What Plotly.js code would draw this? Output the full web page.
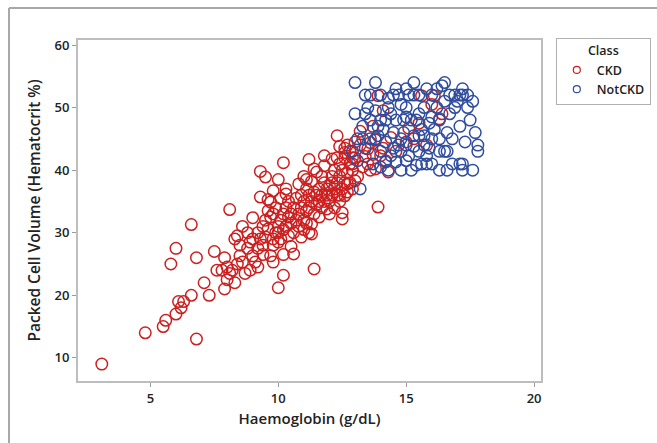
<!DOCTYPE html>
<html>
<head>
<meta charset="utf-8">
<script src="https://cdn.plot.ly/plotly-3.0.1.min.js"></script>
<style>
  html, body { margin: 0; padding: 0; background: #ffffff; }
  #chart { width: 657px; height: 443px; }
</style>
</head>
<body>
<div id="chart"></div>
<script>
// ---- Data ----
const classNames = ["CKD", "NotCKD"];

const ckdHemo = [
  3.1, 4.8, 5.5, 5.6, 6.0, 6.2, 6.1, 6.3, 6.6, 6.8, 7.3, 7.1, 5.8, 6.0, 6.8, 6.6, 8.1, 7.5, 7.6, 7.8,
  7.9, 7.9, 8.0, 8.1, 8.3, 8.2, 8.3, 8.5, 8.5, 8.6, 8.7, 8.4, 8.0, 8.8, 9.0, 9.0, 9.1, 9.2, 9.3, 9.3,
  9.3, 9.5, 9.8, 9.7, 9.7, 9.6, 9.5, 9.4, 9.7, 9.8, 10.0, 10.2, 10.2, 10.3, 10.4, 10.6, 10.8, 11.0, 11.2, 11.4,
  11.2, 11.3, 11.3, 11.5, 11.8, 11.8, 12.1, 12.3, 12.4, 12.6, 12.5, 12.5, 12.6, 12.7, 13.0, 13.9, 13.6, 14.3, 14.0, 14.1,
  13.5, 13.4, 13.6, 13.9, 15.6, 16.1, 16.4, 16.3, 15.0, 15.3, 13.2,
  8.9, 9.0, 9.2, 9.4, 9.5, 9.6, 9.8, 9.8, 9.9, 10.0, 10.0, 10.0, 10.1, 10.1, 10.2, 10.2, 10.3, 10.3, 10.4, 10.4,
  10.5, 10.5, 10.6, 10.6, 10.7, 10.7, 10.8, 10.8, 10.9, 10.9, 11.0, 11.0, 11.1, 11.1, 11.2, 11.2, 11.3, 11.4, 11.4, 11.5,
  11.5, 11.6, 11.6, 11.7, 11.7, 11.8, 11.8, 11.9, 11.9, 12.0, 12.0, 12.1, 12.1, 12.2, 12.2, 12.3, 12.3, 12.4, 12.4, 12.5,
  12.5, 12.6, 12.6, 12.7, 12.7, 12.8, 12.8, 12.9, 13.0, 10.1, 10.3, 10.0, 9.9, 9.6, 11.0, 11.3, 10.9, 10.5, 11.1, 10.2,
  9.8, 11.6, 11.9, 12.2, 12.0, 11.7, 11.4, 11.1, 12.4, 12.9, 13.1, 13.3, 13.5, 13.2, 13.7, 13.8, 13.0, 14.2, 13.8, 12.7,
  12.9, 9.4, 9.2, 8.8, 8.9, 8.4, 8.6,
  14.4, 15.5, 14.6, 15.8, 13.7, 14.1, 15.1, 16.0,
  12.3, 12.6, 12.8, 12.4, 12.9, 12.1
];
const ckdPcv = [
  9, 14, 15, 16, 17, 18, 19, 19, 20, 13, 20, 22, 25, 27.5, 26, 31.3, 33.7, 27, 24, 24,
  26, 21, 24.5, 23.5, 22, 24, 29, 28, 26.3, 25.3, 23.5, 25, 22.5, 30, 32.4, 26.3, 25.3, 27.5, 29, 35.7,
  39.8, 38.9, 36.7, 34.9, 32.5, 30.6, 29.3, 28, 26.3, 25.3, 21.2, 23.2, 41.2, 36.2, 32.5, 26.6, 37.8, 39, 41.7, 24.2,
  30, 31.4, 38.2, 39.7, 42.3, 40.7, 41.8, 45.5, 43.8, 42.8, 32.2, 33.2, 35.9, 37.8, 38.3, 34.1, 40, 39.7, 42.3, 43.5,
  43.4, 42.2, 44.4, 51.9, 51.9, 51.9, 49, 48.2, 44.5, 45, 46.2,
  28.5, 29, 30, 31, 32, 33.5, 28, 29, 30, 28.5, 30, 31, 29, 32, 30.5, 33, 31, 34, 29.5, 35,
  31.5, 33, 30, 34, 32, 35.5, 31, 33, 34, 36, 32, 35, 33.5, 37, 34, 36, 35, 33, 36.5, 34.5,
  36, 35, 37, 34, 36, 35, 38, 36, 37, 35, 37.5, 36, 39, 37, 40, 36, 38, 39, 41, 37,
  40, 38, 42, 36.5, 39.5, 41, 43, 40, 42, 35.5, 37, 38.5, 34, 35.3, 30.5, 29.8, 29.3, 27.8, 31.5, 26.5,
  33, 32.5, 33.8, 34, 33, 39, 40.2, 38.5, 35, 37, 39, 40.5, 41, 44, 42.5, 44.8, 44.5, 41.5, 40.2, 44,
  42, 26.5, 24.5, 27.5, 24, 29.5, 31,
  45.2, 47.5, 43, 44, 47, 49.5, 46.7, 50.5,
  42, 43.5, 38, 36, 41, 38
];

const notHemo = [
  13.0, 13.8, 15.3, 16.5, 15.8, 16.4, 17.2, 13.4, 13.6, 14.0, 14.5, 14.7, 15.1, 15.3, 15.5, 16.0, 16.7, 16.9, 17.1, 17.2,
  17.4, 14.3, 17.6, 13.0, 13.4, 13.8, 14.3, 15.0, 15.7, 16.2, 16.9, 17.4, 13.6, 14.0, 14.2, 14.6, 14.9, 15.2, 15.4, 16.3,
  17.1, 17.7, 17.8, 17.8, 13.1, 13.3, 13.6, 13.8, 14.5, 14.9, 15.3, 15.5, 15.7, 16.0, 16.3, 14.7, 15.0, 15.3, 15.7, 14.5,
  13.4, 14.0, 14.4, 14.8, 15.1, 15.5, 15.8, 16.3, 16.5, 16.6, 14.2, 14.6, 15.6, 15.8, 16.0, 16.8, 17.1, 17.2, 14.3, 15.2,
  16.3, 16.6, 17.2, 17.6, 13.2, 13.1, 12.9, 13.3, 13.5, 13.9, 14.1, 14.4, 14.8, 15.0, 15.5, 15.9, 16.1, 16.7, 16.5, 17.0,
  17.5, 14.6, 15.0, 16.2, 13.9, 14.2, 14.8, 15.0, 15.4, 15.9, 16.8, 17.3, 13.7, 14.0, 14.8, 15.6, 16.6, 16.0
];
const notPcv = [
  54, 54, 54, 54, 53, 53.5, 53, 52, 52, 52, 52, 52, 52, 52, 52, 52, 52, 52, 52, 52,
  52, 51.5, 51, 49, 49, 49.5, 50, 50, 50, 50, 50, 50, 48, 48, 48, 48, 48, 48, 48, 48,
  47, 46, 44, 43, 45, 45, 45, 45, 46, 46, 45.5, 45.5, 45.5, 45, 45, 44, 44, 43.8, 44, 43.5,
  43.5, 43, 42.3, 43, 42.3, 43, 42.3, 43, 43, 43, 41.3, 41.3, 41, 41, 41, 41, 41, 41, 40, 40,
  40, 40, 40, 40, 37, 41.5, 43, 47, 50, 47, 46.5, 49, 50.5, 48.5, 49, 47.5, 46.5, 49, 51, 51,
  48, 53, 53, 53, 45.5, 44.5, 45, 41.5, 40.8, 43.5, 45, 44.5, 41, 40.5, 40, 46.5, 46, 48.5
];

const xTickVals = [5, 10, 15, 20];
const yTickVals = [10, 20, 30, 40, 50, 60];

const RED = "#cc1f1f";
const BLUE = "#2f4c9e";
const FONT = "Open Sans, Noto Sans, sans-serif";

const traces = [
  {
    type: "scatter", mode: "markers", name: classNames[0],
    x: ckdHemo, y: ckdPcv, showlegend: false, hoverinfo: "skip",
    marker: { symbol: "circle-open", size: 11.5, color: RED, line: { width: 1.5, color: RED } }
  },
  {
    type: "scatter", mode: "markers", name: classNames[1],
    x: notHemo, y: notPcv, showlegend: false, hoverinfo: "skip",
    marker: { symbol: "circle-open", size: 11.5, color: BLUE, line: { width: 1.5, color: BLUE } }
  },
  // legend-only entries with small markers
  {
    type: "scatter", mode: "markers", name: classNames[0],
    x: [null], y: [null], showlegend: true,
    marker: { symbol: "circle-open", size: 7, color: RED, line: { width: 1.2, color: RED } }
  },
  {
    type: "scatter", mode: "markers", name: classNames[1],
    x: [null], y: [null], showlegend: true,
    marker: { symbol: "circle-open", size: 7, color: BLUE, line: { width: 1.2, color: BLUE } }
  }
];

const layout = {
  width: 657, height: 443,
  margin: { l: 78, r: 116, t: 40, b: 62, pad: 0 },
  paper_bgcolor: "#ffffff",
  plot_bgcolor: "#ffffff",
  font: { family: FONT, color: "#222222" },
  showlegend: true,
  xaxis: {
    range: [2.17, 20.27],
    tickvals: xTickVals,
    ticks: "outside", ticklen: 4, tickwidth: 1, tickcolor: "#9a9a9a",
    showgrid: false, zeroline: false,
    showline: true, mirror: true, linecolor: "#bdbdbd", linewidth: 2,
    tickfont: { family: FONT, size: 13, color: "#222222", weight: 600 },
    title: { text: "Haemoglobin (g/dL)", standoff: 8,
             font: { family: FONT, size: 15, color: "#222222", weight: 600 } },
    automargin: false
  },
  yaxis: {
    range: [6.3, 60.8],
    tickvals: yTickVals,
    ticks: "outside", ticklen: 4, tickwidth: 1, tickcolor: "#9a9a9a",
    showgrid: false, zeroline: false,
    showline: true, mirror: true, linecolor: "#bdbdbd", linewidth: 2,
    tickfont: { family: FONT, size: 13, color: "#222222", weight: 600 },
    title: { text: "Packed Cell Volume (Hematocrit %)", standoff: 10,
             font: { family: FONT, size: 15.5, color: "#222222", weight: 600 } },
    automargin: false
  },
  legend: {
    xref: "container", yref: "container",
    x: 0.846, xanchor: "left", y: 0.914, yanchor: "top",
    bgcolor: "#ffffff", bordercolor: "#b0b0b0", borderwidth: 1,
    font: { family: FONT, size: 12.5, color: "#222222", weight: 600 },
    title: { text: "Class", side: "top center", font: { family: FONT, size: 12.5, color: "#222222", weight: 600 } },
    itemwidth: 30,
    tracegroupgap: 0
  },
  shapes: [
    {
      type: "line", xref: "paper", yref: "paper",
      x0: -0.149, x1: 1.3, y0: 1.094, y1: 1.094,
      line: { color: "#a8a8a8", width: 2 }, layer: "below"
    },
    {
      type: "line", xref: "paper", yref: "paper",
      x0: -0.149, x1: -0.149, y0: -0.3, y1: 1.094,
      line: { color: "#a8a8a8", width: 2 }, layer: "below"
    }
  ]
};

Plotly.newPlot("chart", traces, layout, { displayModeBar: false, staticPlot: true });
</script>
</body>
</html>
